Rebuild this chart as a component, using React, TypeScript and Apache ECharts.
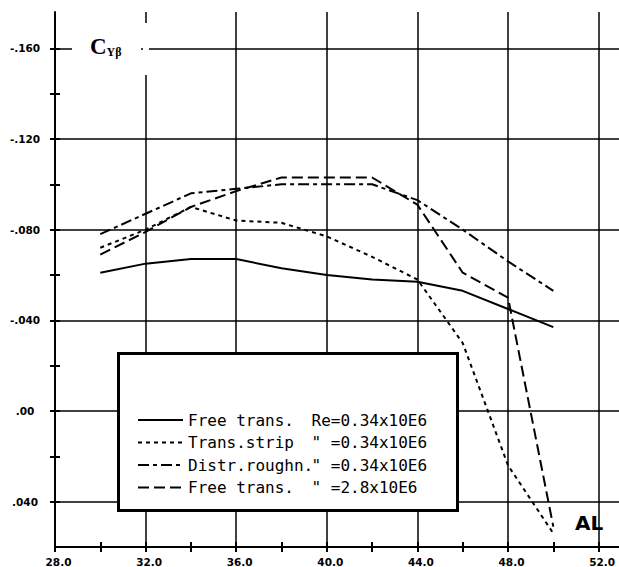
import React, { useEffect, useRef } from 'react';
import * as echarts from 'echarts';

// angle of attack (AL)
const alpha = [30, 32, 34, 36, 38, 40, 42, 44, 46, 48, 50];

// C_Y-beta values per configuration
const freeTrans034 = [-0.061, -0.065, -0.067, -0.067, -0.063, -0.060, -0.058, -0.057, -0.053, -0.045, -0.037];
const transStrip034 = [-0.072, -0.080, -0.090, -0.084, -0.083, -0.077, -0.068, -0.058, -0.030, 0.024, 0.054];
const distrRoughn034 = [-0.078, -0.087, -0.096, -0.098, -0.100, -0.100, -0.100, -0.093, -0.080, -0.066, -0.053];
const freeTrans28 = [-0.069, -0.079, -0.090, -0.097, -0.103, -0.103, -0.103, -0.091, -0.061, -0.050, 0.051];

const seriesNames = [
  'Free trans. Re=0.34x10E6',
  'Trans.strip Re=0.34x10E6',
  'Distr.roughn. Re=0.34x10E6',
  'Free trans. Re=2.8x10E6',
];
const legendLeftTexts = ['Free trans.', 'Trans.strip', 'Distr.roughn.', 'Free trans.'];
const legendRightTexts = ['Re=0.34x10E6', '" =0.34x10E6', '" =0.34x10E6', '" =2.8x10E6'];

// axis ticks and labels
const xTickValues = [28, 30, 32, 34, 36, 38, 40, 42, 44, 46, 48, 50, 52];
const xLabelValues = [28, 32, 36, 40, 44, 48, 52];
const yTickValues = [-0.16, -0.14, -0.12, -0.1, -0.08, -0.06, -0.04, -0.02, 0, 0.02, 0.04];
const yLabelValues = [-0.16, -0.12, -0.08, -0.04, 0, 0.04];
const yLabelTexts = ['-.160', '-.120', '-.080', '-.040', '.00', '.040'];

// grid lines
const gridX = [32, 36, 40, 44, 48, 52];
const gridY = [-0.16, -0.12, -0.08, -0.04, 0, 0.04];

export default function App() {
  const ref = useRef<HTMLDivElement>(null);

  useEffect(() => {
    const chart = echarts.init(ref.current as HTMLDivElement, null, { renderer: 'svg' });
    const black = '#000';
    const lineDefs = [
      { data: freeTrans034, type: 'solid' as any },
      { data: transStrip034, type: [4, 4] as any },
      { data: distrRoughn034, type: [11, 4, 4, 4] as any },
      { data: freeTrans28, type: [11, 5] as any },
    ];
    const axisFont = {
      color: black,
      fontFamily: 'DejaVu Sans',
      fontWeight: 'bold' as const,
      fontSize: 10.5,
    };
    const monoStyle = { fontFamily: 'DejaVu Sans Mono', fontSize: 16, color: black, lineHeight: 22 };

    const series: any[] = lineDefs.map((d, i) => ({
      type: 'line',
      name: seriesNames[i],
      data: alpha.map((a, j) => [a, d.data[j]]),
      symbol: 'none',
      silent: true,
      z: 3,
      itemStyle: { color: black },
      lineStyle: { color: black, width: 2, type: d.type },
    }));
    series[0].markLine = {
      silent: true,
      symbol: ['none', 'none'],
      label: { show: false },
      lineStyle: { color: black, width: 1.5, type: 'solid' },
      emphasis: { disabled: true },
      data: [
        ...gridX.map((v) => ({ xAxis: v })),
        ...gridY.map((v) => ({ yAxis: v })),
      ],
    };

    chart.setOption({
      animation: false,
      backgroundColor: '#fff',
      grid: { left: 55, right: 0, top: 12, bottom: 19, containLabel: false },
      xAxis: [
        {
          type: 'value',
          min: 28,
          max: 52.9,
          position: 'bottom',
          axisLine: { onZero: false, lineStyle: { color: black, width: 2 } },
          axisTick: { show: true, inside: false, length: 5, customValues: xTickValues, lineStyle: { color: black, width: 2 } },
          axisLabel: {
            ...axisFont,
            customValues: xLabelValues,
            formatter: (v: number) => v.toFixed(1),
            margin: 9,
            padding: [0, 0, 0, 7],
          },
          splitLine: { show: false },
        },
        {
          type: 'value',
          min: 28,
          max: 52.9,
          position: 'bottom',
          axisLine: { show: false, onZero: false },
          axisTick: { show: true, inside: true, length: 5, customValues: xTickValues, lineStyle: { color: black, width: 2 } },
          axisLabel: { show: false },
          splitLine: { show: false },
        },
      ],
      yAxis: [
        {
          type: 'value',
          inverse: true,
          min: -0.176,
          max: 0.06,
          position: 'left',
          axisLine: { onZero: false, lineStyle: { color: black, width: 2 } },
          axisTick: { show: true, inside: false, length: 5, customValues: yTickValues, lineStyle: { color: black, width: 2 } },
          axisLabel: {
            ...axisFont,
            customValues: yLabelValues,
            align: 'center',
            margin: 30,
            formatter: (v: number) => {
              const i = yLabelValues.findIndex((t) => Math.abs(t - v) < 1e-9);
              return i >= 0 ? yLabelTexts[i] : '';
            },
          },
          splitLine: { show: false },
        },
        {
          type: 'value',
          inverse: true,
          min: -0.176,
          max: 0.06,
          position: 'left',
          axisLine: { show: false, onZero: false },
          axisTick: { show: true, inside: true, length: 5, customValues: yTickValues, lineStyle: { color: black, width: 2 } },
          axisLabel: { show: false },
          splitLine: { show: false },
        },
      ],
      legend: {
        orient: 'vertical',
        left: 137,
        top: 409,
        padding: 0,
        itemWidth: 45,
        itemHeight: 14,
        itemGap: 0.5,
        selectedMode: false,
        z: 200,
        itemStyle: { opacity: 0, borderWidth: 0 },
        data: seriesNames,
        formatter: (name: string) => {
          const i = seriesNames.indexOf(name);
          return `{a|${legendLeftTexts[i]}}{b|${legendRightTexts[i]}}`;
        },
        textStyle: {
          ...monoStyle,
          rich: {
            a: { ...monoStyle, width: 123.5 },
            b: { ...monoStyle },
          },
        },
      },
      graphic: [
        {
          type: 'rect',
          z: 100,
          shape: { x: 118.5, y: 353.5, width: 339, height: 157 },
          style: { fill: '#fff', stroke: black, lineWidth: 3 },
        },
        {
          type: 'rect',
          z: 100,
          shape: { x: 72, y: 40, width: 69, height: 16 },
          style: { fill: '#fff' },
        },
        {
          type: 'rect',
          z: 100,
          shape: { x: 143, y: 23, width: 6, height: 52 },
          style: { fill: '#fff' },
        },
        {
          type: 'text',
          z: 101,
          x: 90,
          y: 58,
          style: {
            text: '{c|C}{s|Yβ}',
            fill: black,
            verticalAlign: 'bottom',
            rich: {
              c: { fontFamily: 'Liberation Serif', fontWeight: 'bold', fontSize: 23, fill: black, color: black, verticalAlign: 'bottom' },
              s: { fontFamily: 'Liberation Serif', fontWeight: 'bold', fontSize: 12, fill: black, color: black, verticalAlign: 'bottom' },
            },
          },
        },
        {
          type: 'text',
          z: 101,
          x: 575,
          y: 523,
          style: {
            text: 'AL',
            fontFamily: 'DejaVu Sans',
            fontWeight: 'bold',
            fontSize: 20,
            fill: black,
            verticalAlign: 'middle',
          },
        },
      ],
      series,
    });

    return () => chart.dispose();
  }, []);

  return (
    <div
      ref={ref}
      style={{ position: 'absolute', left: 0, top: 0, width: 619, height: 567, background: '#fff' }}
    />
  );
}
